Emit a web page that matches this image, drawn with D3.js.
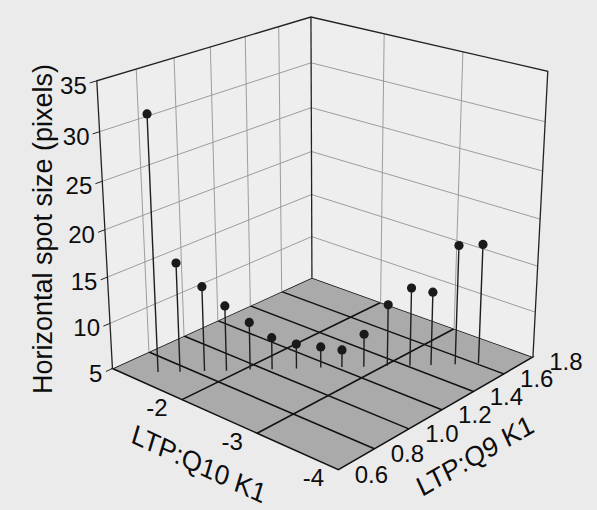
<!DOCTYPE html>
<html>
<head>
<meta charset="utf-8">
<script src="https://cdn.jsdelivr.net/npm/d3@7"></script>
<style>
  body { margin: 0; background: #ebebeb; }
  svg { display: block; font-family: "Liberation Sans", Arial, sans-serif; }
</style>
</head>
<body>
<div id="container"></div>
<script>
const q10 = [-1.40, -1.56, -1.73, -1.89, -2.05, -2.21, -2.38, -2.55, -2.70, -2.86, -3.02, -3.19, -3.34, -3.51, -3.67];
const q9 = [0.70, 0.76, 0.83, 0.89, 0.96, 1.02, 1.09, 1.16, 1.22, 1.28, 1.35, 1.41, 1.47, 1.54, 1.61];
const spot = [32.0, 16.8, 14.2, 12.1, 10.2, 8.5, 7.7, 7.3, 6.9, 8.6, 11.7, 13.5, 13.0, 17.9, 17.9];

// tick labels
const q10Ticks = [-2, -3, -4];
const q9Ticks = [0.6, 0.8, 1.0, 1.2, 1.4, 1.6, 1.8];
const spotTicks = [5, 10, 15, 20, 25, 30, 35];

const width = 597;
const height = 510;

// scales into the unit box
const xQ10 = d3.scaleLinear().domain([-1, -4]).range([0, 1]);
const yQ9 = d3.scaleLinear().domain([0.6, 1.8]).range([0, 1]);
const zSpot = d3.scaleLinear().domain([5, 35]).range([0, 1]);

/*==================================================
    CAMERA: perspective fitted to where the box sits
===================================================*/
// unit box point -> screen point
const anchors = [
  [0, 0, 0, 112, 368], [1, 0, 0, 338, 470], [1, 1, 0, 535, 356], [0, 1, 0, 312, 277],
  [0, 0, 1, 97, 80], [0, 1, 1, 311, 17], [1, 1, 1, 547, 72],
  [0, 0, 1/6, 109.7, 324], [0, 0, 2/6, 107.3, 278.3], [0, 0, 3/6, 104.8, 230],
  [0, 0, 4/6, 102.4, 182.7], [0, 0, 5/6, 99.8, 131.7],
  [0, 1/6, 1, 137, 68.2], [0, 2/6, 1, 173, 57.6], [0, 3/6, 1, 210, 46.7],
  [0, 4/6, 1, 246, 36.1], [0, 5/6, 1, 279, 26.4],
  [1/3, 1, 1, 384, 34], [2/3, 1, 1, 463, 52.4],
  [1, 1, 5/6, 544.9, 122], [1, 1, 4/6, 542.9, 170], [1, 1, 3/6, 540.8, 218],
  [0, 1, 5/6, 311, 63], [0, 1, 4/6, 311, 108], [0, 1, 3/6, 311.5, 152],
  [0, 1, 2/6, 311.5, 195], [0, 1, 1/6, 312, 237],
  [1/3, 0, 0, 182, 398], [2/3, 0, 0, 258, 432],
  [1, 1/6, 0, 376.7, 448.3], [1, 2/6, 0, 408.3, 430], [1, 3/6, 0, 440, 411.7],
  [1, 4/6, 0, 471.7, 392.3], [1, 5/6, 0, 503.3, 373.3]
];

const fitCamera = pts => {
  const n = 11;
  const M = d3.range(n).map(() => new Array(n + 1).fill(0));
  const addRow = (row, rhs) => {
    for (let i = 0; i < n; i++) {
      for (let j = 0; j < n; j++) M[i][j] += row[i] * row[j];
      M[i][n] += row[i] * rhs;
    }
  };
  pts.forEach(([X, Y, Z, sx, sy]) => {
    const x = (sx - 300) / 300, y = (sy - 250) / 300;
    addRow([X, Y, Z, 1, 0, 0, 0, 0, -x * X, -x * Y, -x * Z], x);
    addRow([0, 0, 0, 0, X, Y, Z, 1, -y * X, -y * Y, -y * Z], y);
  });
  for (let c = 0; c < n; c++) {
    let p = c;
    for (let r = c + 1; r < n; r++) if (Math.abs(M[r][c]) > Math.abs(M[p][c])) p = r;
    [M[c], M[p]] = [M[p], M[c]];
    for (let r = 0; r < n; r++) {
      if (r === c) continue;
      const f = M[r][c] / M[c][c];
      for (let k = c; k <= n; k++) M[r][k] -= f * M[c][k];
    }
  }
  return M.map((row, i) => row[n] / row[i]);
};

const P = fitCamera(anchors);

const project = (a, b, c) => {
  const d = P[8] * a + P[9] * b + P[10] * c + 1;
  const x = (P[0] * a + P[1] * b + P[2] * c + P[3]) / d;
  const y = (P[4] * a + P[5] * b + P[6] * c + P[7]) / d;
  return [x * 300 + 300, y * 300 + 250];
};

// data point -> screen
const pt = (a, b, z) => project(xQ10(a), yQ9(b), zSpot(z));

const line = d3.line();

// create the canvas
const svg = d3.select('#container')
  .append('svg')
  .attr('width', width)
  .attr('height', height);

/*==================================================
    FLOOR
===================================================*/
const floor = svg.append('g');

floor.append('path')
  .attr('d', line([pt(-1, 0.6, 5), pt(-4, 0.6, 5), pt(-4, 1.8, 5), pt(-1, 1.8, 5)]) + 'Z')
  .attr('fill', '#aaaaaa')
  .attr('stroke', '#111')
  .attr('stroke-width', 1.5);

q10Ticks.filter(d => d > -4).forEach(d => {
  floor.append('path')
    .attr('d', line([pt(d, 0.6, 5), pt(d, 1.8, 5)]))
    .attr('stroke', '#111').attr('stroke-width', 1.5);
});

q9Ticks.slice(1, -1).forEach(d => {
  floor.append('path')
    .attr('d', line([pt(-1, d, 5), pt(-4, d, 5)]))
    .attr('stroke', '#111').attr('stroke-width', 1.5);
});

/*==================================================
    WALLS
===================================================*/
const walls = svg.append('g')
  .attr('fill', 'none');

// wall at Q10 = -1
walls.append('path')
  .attr('d', line([pt(-1, 0.6, 5), pt(-1, 1.8, 5), pt(-1, 1.8, 35), pt(-1, 0.6, 35)]) + 'Z')
  .attr('fill', '#eeeeee');

// wall at Q9 = 1.8
walls.append('path')
  .attr('d', line([pt(-1, 1.8, 5), pt(-4, 1.8, 5), pt(-4, 1.8, 35), pt(-1, 1.8, 35)]) + 'Z')
  .attr('fill', '#eeeeee');

const gridColor = '#939393';

spotTicks.slice(1, -1).forEach(z => {
  walls.append('path')
    .attr('d', line([pt(-1, 0.6, z), pt(-1, 1.8, z), pt(-4, 1.8, z)]))
    .attr('stroke', gridColor).attr('stroke-width', 0.9);
});

q9Ticks.slice(1, -1).forEach(d => {
  walls.append('path')
    .attr('d', line([pt(-1, d, 5), pt(-1, d, 35)]))
    .attr('stroke', gridColor).attr('stroke-width', 0.9);
});

q10Ticks.filter(d => d > -4).forEach(d => {
  walls.append('path')
    .attr('d', line([pt(d, 1.8, 5), pt(d, 1.8, 35)]))
    .attr('stroke', gridColor).attr('stroke-width', 0.9);
});

// box edges
walls.append('path')
  .attr('d', line([pt(-1, 0.6, 5), pt(-1, 0.6, 35), pt(-1, 1.8, 35), pt(-4, 1.8, 35), pt(-4, 1.8, 5)]))
  .attr('stroke', '#222').attr('stroke-width', 1.3);

walls.append('path')
  .attr('d', line([pt(-1, 1.8, 5), pt(-1, 1.8, 35)]))
  .attr('stroke', '#222').attr('stroke-width', 1.3);

/*==================================================
    AXES
===================================================*/
const axes = svg.append('g')
  .attr('fill', '#0d0d0d');

// vertical axis
spotTicks.forEach(z => {
  axes.append('path')
    .attr('d', line([pt(-1, 0.6, z), pt(-1, 0.565, z)]))
    .attr('stroke', '#222').attr('stroke-width', 1);
  const [x, y] = pt(-1, 0.6, z);
  axes.append('text')
    .attr('x', x - 10)
    .attr('y', y + 4.5)
    .attr('dy', '0.36em')
    .attr('text-anchor', 'end')
    .attr('font-size', 24)
    .text(z);
});

axes.append('text')
  .attr('transform', 'translate(52, 229) rotate(-90)')
  .attr('text-anchor', 'middle')
  .attr('font-size', 27)
  .text('Horizontal spot size (pixels)');

// Q10 axis
q10Ticks.forEach(d => {
  const [x, y] = pt(d, 0.6, 5);
  axes.append('text')
    .attr('x', x - 25)
    .attr('y', y + 8)
    .attr('dy', '0.36em')
    .attr('text-anchor', 'middle')
    .attr('font-size', 24)
    .text(d);
});

axes.append('text')
  .attr('transform', 'matrix(0.906, 0.423, -0.29, 0.96, 130, 442)')
  .attr('font-size', 27)
  .text('LTP:Q10 K1');

// Q9 axis
q9Ticks.forEach(d => {
  const [x, y] = pt(-4, d, 5);
  axes.append('text')
    .attr('x', x + 33)
    .attr('y', y + 4.5)
    .attr('dy', '0.36em')
    .attr('text-anchor', 'middle')
    .attr('font-size', 24)
    .text(d.toFixed(1));
});

axes.append('text')
  .attr('transform', 'matrix(0.866, -0.5, 0.42, 0.91, 422, 497)')
  .attr('font-size', 27)
  .text('LTP:Q9 K1');

/*==================================================
    STEMS
===================================================*/
const stems = svg.append('g');

d3.range(spot.length).forEach(i => {
  stems.append('path')
    .attr('d', line([pt(q10[i], q9[i], 5), pt(q10[i], q9[i], spot[i])]))
    .attr('stroke', '#1e1e1e')
    .attr('stroke-width', 1.4);

  const [x, y] = pt(q10[i], q9[i], spot[i]);
  stems.append('circle')
    .attr('cx', x)
    .attr('cy', y)
    .attr('r', 4.6)
    .attr('fill', '#1a1a1a');
});
</script>
</body>
</html>
